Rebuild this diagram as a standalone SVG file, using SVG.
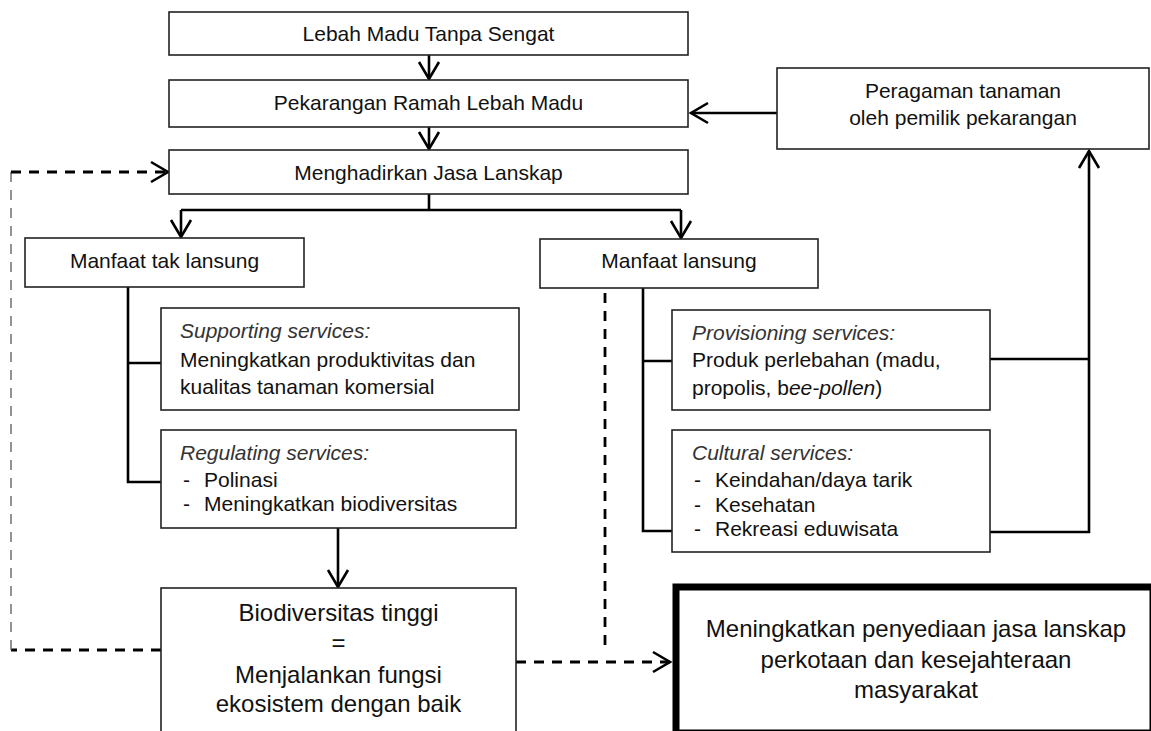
<svg xmlns="http://www.w3.org/2000/svg" width="1151" height="731" viewBox="0 0 1151 731">
<style>
text{font-family:"Liberation Sans",Arial,sans-serif;fill:#111;}
.t21{font-size:21px;}
.t24{font-size:24px;}
.c{text-anchor:middle;}
.it{font-style:italic;fill:#333;}
.box{fill:#fff;stroke:#222;stroke-width:1.6;}
.thick{fill:#fff;stroke:#000;stroke-width:7;}
.ln{fill:none;stroke:#000;stroke-width:2.6;}
.ds{fill:none;stroke:#000;stroke-width:2.8;stroke-dasharray:10 8;}
.dsg{fill:none;stroke:#666;stroke-width:1.4;stroke-dasharray:10 8;}
</style>
<defs>
<marker id="ah" markerUnits="userSpaceOnUse" viewBox="-20 -12 22 24" markerWidth="22" markerHeight="24" refX="0" refY="0" orient="auto" overflow="visible">
<path d="M-17,-10 L0,0 L-17,10" fill="none" stroke="#000" stroke-width="2.6"/>
</marker>
</defs>
<rect width="1151" height="731" fill="#fff"/>
<g id="connectors">
<line class="ln" x1="429" y1="55" x2="429" y2="79" marker-end="url(#ah)"/>
<line class="ln" x1="429" y1="127" x2="429" y2="149" marker-end="url(#ah)"/>
<path class="ln" d="M429,194 V210 M181,210 H681"/>
<line class="ln" x1="181" y1="210" x2="181" y2="237" marker-end="url(#ah)"/>
<line class="ln" x1="681" y1="210" x2="681" y2="238" marker-end="url(#ah)"/>
<line class="ln" x1="777" y1="113" x2="691" y2="113" marker-end="url(#ah)"/>
<path class="ln" d="M128,287 V482 H161 M128,363 H161"/>
<line class="ln" x1="338" y1="528" x2="338" y2="587" marker-end="url(#ah)"/>
<path class="ln" d="M643,288 V531 H672 M643,361 H672"/>
<path class="ln" d="M990,359 H1089"/>
<path class="ln" d="M990,532 H1089 V151" marker-end="url(#ah)"/>
<path class="ds" d="M161,650 H11"/>
<path class="dsg" d="M11,650 V172"/>
<path class="ds" d="M11,172 H168" marker-end="url(#ah)"/>
<path class="ds" d="M605,293 V652"/>
<path class="ds" d="M516,662 H670" marker-end="url(#ah)"/>
</g>
<g id="n1"><rect class="box" x="169" y="12" width="519" height="43"/><text class="t21 c" x="428.5" y="41">Lebah Madu Tanpa Sengat</text></g>
<g id="n2"><rect class="box" x="169" y="80" width="519" height="47"/><text class="t21 c" x="428.5" y="110">Pekarangan Ramah Lebah Madu</text></g>
<g id="n3"><rect class="box" x="169" y="150" width="519" height="44"/><text class="t21 c" x="428.5" y="180">Menghadirkan Jasa Lanskap</text></g>
<g id="n4"><rect class="box" x="777" y="68" width="372" height="81"/><text class="t21 c" x="963" y="98">Peragaman tanaman</text><text class="t21 c" x="963" y="125">oleh pemilik pekarangan</text></g>
<g id="n5"><rect class="box" x="25" y="238" width="279" height="49"/><text class="t21 c" x="164.5" y="268">Manfaat tak lansung</text></g>
<g id="n6"><rect class="box" x="540" y="239" width="278" height="49"/><text class="t21 c" x="679" y="268">Manfaat lansung</text></g>
<g id="n7"><rect class="box" x="161" y="308" width="358" height="102"/>
<text class="t21 it" x="180" y="338">Supporting services:</text>
<text class="t21" x="180" y="367">Meningkatkan produktivitas dan</text>
<text class="t21" x="180" y="394">kualitas tanaman komersial</text></g>
<g id="n8"><rect class="box" x="161" y="430" width="355" height="98"/>
<text class="t21 it" x="180" y="460">Regulating services:</text>
<text class="t21" x="183" y="487">-</text><text class="t21" x="204" y="487">Polinasi</text>
<text class="t21" x="183" y="511">-</text><text class="t21" x="204" y="511">Meningkatkan biodiversitas</text></g>
<g id="n9"><rect class="box" x="672" y="310" width="318" height="100"/>
<text class="t21 it" x="692" y="340">Provisioning services:</text>
<text class="t21" x="692" y="367">Produk perlebahan (madu,</text>
<text class="t21" x="692" y="395">propolis, b<tspan font-style="italic">ee-pollen</tspan>)</text></g>
<g id="n10"><rect class="box" x="672" y="430" width="318" height="122"/>
<text class="t21 it" x="692" y="460">Cultural services:</text>
<text class="t21" x="694" y="487">-</text><text class="t21" x="715" y="487">Keindahan/daya tarik</text>
<text class="t21" x="694" y="512">-</text><text class="t21" x="715" y="512">Kesehatan</text>
<text class="t21" x="694" y="536">-</text><text class="t21" x="715" y="536">Rekreasi eduwisata</text></g>
<g id="n11"><rect class="box" x="161" y="588" width="355" height="160"/>
<text class="t24 c" x="338.5" y="621">Biodiversitas tinggi</text>
<text class="t24 c" x="338.5" y="651">=</text>
<text class="t24 c" x="338.5" y="683">Menjalankan fungsi</text>
<text class="t24 c" x="338.5" y="712">ekosistem dengan baik</text></g>
<g id="n12"><rect class="thick" x="676" y="587" width="477" height="146"/>
<text class="t24 c" x="916" y="637">Meningkatkan penyediaan jasa lanskap</text>
<text class="t24 c" x="916" y="668">perkotaan dan kesejahteraan</text>
<text class="t24 c" x="916" y="698">masyarakat</text></g>
</svg>
